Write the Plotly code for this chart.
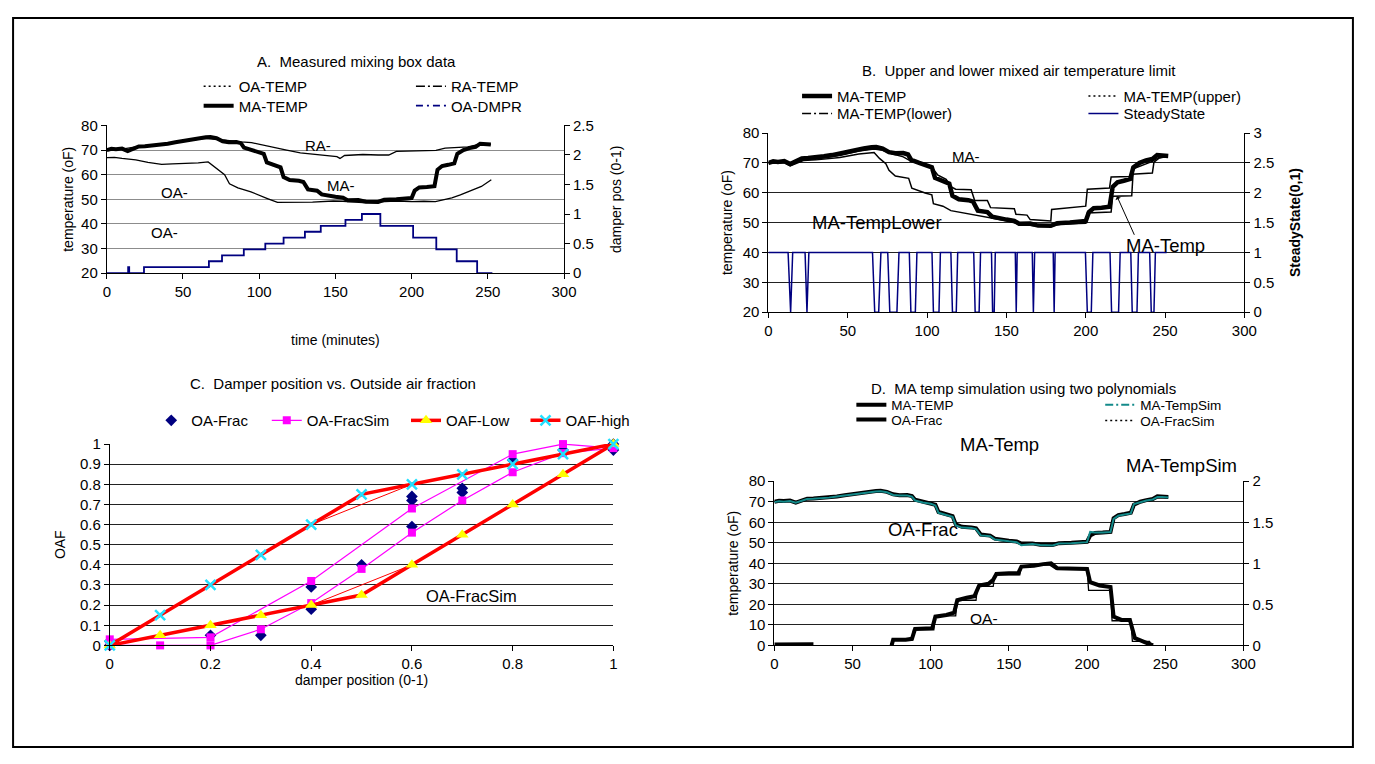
import plotly.graph_objects as go

# page body keeps its default 8px margin, so the figure is sized to fit inside the 1375x764 window
PAGE_W, PAGE_H, OFF = 1375, 764, 8
W, H = PAGE_W - 2 * OFF, PAGE_H - 2 * OFF
FONT = "Liberation Sans, Arial, sans-serif"
NAVY = "#000080"
TEAL = "#138a8a"
MAGENTA = "#ff00ff"
RED = "#ff0000"
YELLOW = "#ffff00"
CYAN = "#22e0ff"

# ---------------- data: mixing box time series (minutes) ----------------
MA_TIME = [0, 3, 6, 10, 13.7, 17, 21, 25, 30, 35, 40, 45, 50, 55, 60, 65, 68, 72, 76, 80,
           85, 88, 90, 95, 100, 103, 105, 110, 114, 116, 120, 126, 129, 132, 138, 141, 146, 150, 155, 158,
           165, 170, 178, 182, 190, 196, 200, 202, 205, 210, 215, 217, 220, 224, 228, 230, 234, 238, 242, 245,
           248, 252]
MA_TEMP = [70.0, 70.5, 70.3, 70.6, 69.6, 70.4, 71.5, 71.6, 71.8, 72.2, 72.6, 73.2, 73.8, 74.3, 74.8, 75.2, 75.3, 74.8, 73.6, 73.2,
           73.3, 72.8, 71.0, 70.0, 69.3, 68.5, 65.0, 64.0, 63.0, 59.0, 57.8, 57.5, 57.0, 54.0, 53.5, 52.0, 51.3, 51.0, 50.6, 49.6,
           49.7, 49.0, 48.9, 49.8, 50.0, 50.3, 50.5, 53.5, 54.8, 55.0, 55.3, 62.0, 63.5, 64.0, 64.6, 68.5, 70.0, 70.8, 71.3, 72.6,
           72.5, 72.3]
MA_TEMP_SIM = [69.8, 70.2, 70.0, 70.3, 69.5, 70.2, 71.3, 71.4, 71.6, 72.0, 72.5, 73.0, 73.7, 74.2, 74.7, 75.0, 75.1, 74.6, 73.3, 73.0,
               73.0, 72.5, 70.6, 69.6, 69.0, 68.2, 64.6, 63.6, 62.6, 58.5, 57.4, 57.2, 56.6, 53.6, 53.2, 51.6, 51.0, 50.7, 50.3, 48.8,
               49.4, 48.9, 48.7, 49.6, 49.8, 50.1, 50.3, 55.3, 55.0, 55.0, 55.2, 61.6, 63.2, 63.8, 64.3, 68.9, 69.8, 70.6, 71.1, 72.3,
               72.3, 72.1]

RA_TIME = [0, 10, 19, 30, 40, 50, 58, 65, 70, 79, 88, 95, 102, 110, 118, 127, 140, 148, 151, 153,
           156, 162, 168, 178, 185, 190, 200, 210, 216, 222, 228, 237, 242, 246, 252]
RA_TEMP = [70.2, 70.4, 71.3, 72.0, 72.8, 73.6, 74.4, 74.8, 74.5, 73.8, 73.3, 73.0, 72.0, 71.1, 70.0, 68.9, 68.0, 67.6, 67.3, 66.6,
           67.8, 68.0, 68.2, 68.0, 68.0, 69.5, 69.6, 69.8, 69.9, 70.8, 70.9, 71.3, 72.0, 72.5, 72.3]

OA_TIME = [0, 5, 10, 19, 27, 36, 43, 51, 60, 66.5, 71, 74, 77.3, 80.5, 86, 94.6, 100, 105.4, 112, 120,
           127, 135, 148.6, 155, 168, 178, 189.7, 200, 208, 215.6, 221, 226.4, 232, 237, 242, 245.8, 252.3]
OA_TEMP = [66.9, 67.0, 66.6, 66.0, 65.0, 64.2, 64.4, 64.5, 64.8, 65.2, 62.9, 61.3, 60.0, 56.3, 54.6, 53.0, 51.8, 50.3, 48.7, 48.8,
           48.6, 48.8, 49.3, 49.2, 48.6, 48.8, 49.3, 49.0, 49.2, 49.0, 49.8, 50.6, 51.8, 53.0, 54.2, 55.2, 57.9]

DMPR_TIME = [0, 14, 14.7, 24.4, 67, 75.6, 89.9, 104, 116, 130, 140.4, 156.6, 167.4, 179.5, 201, 216.2, 229.6, 243, 253]
DMPR_POS = [0, 0.1, 0, 0.1, 0.2, 0.3, 0.4, 0.5, 0.6, 0.7, 0.8, 0.9, 1.0, 0.8, 0.6, 0.4, 0.2, 0, 0]

UP_TIME = [0, 5, 10, 13.7, 17, 22, 30, 36.5, 45, 57, 62, 66.6, 72, 78, 85, 90, 95, 100, 103, 106.6,
           112, 115, 118, 127.8, 130, 138, 140, 155, 156, 163, 165, 178, 178.5, 200, 201, 215, 216, 228, 229, 242,
           243, 246, 250]
UP_TEMP = [70.0, 70.2, 70.3, 69.3, 70.2, 71.2, 71.3, 71.8, 72.5, 74.0, 74.3, 74.6, 74.2, 73.0, 72.0, 70.5, 69.8, 69.0, 68.5, 66.0,
           64.5, 62.0, 61.2, 61.0, 57.4, 57.4, 55.0, 54.6, 52.8, 52.5, 51.0, 50.5, 54.4, 55.5, 61.2, 61.6, 65.3, 65.4, 66.2, 66.6,
           70.2, 71.5, 72.0]

LO_TIME = [0, 5, 10, 13.7, 17, 22, 30, 36.5, 45, 57, 62, 66.6, 70, 74, 76, 80, 88.4, 90.4, 98.8, 103,
           104, 110, 115, 127.8, 140, 150, 158, 170, 178, 185, 200, 201, 216, 217, 229, 230, 242, 246, 250]
LO_TEMP = [69.8, 70.0, 70.0, 69.0, 69.8, 70.8, 71.0, 71.4, 71.8, 73.0, 73.3, 73.5, 71.5, 69.7, 67.5, 65.6, 64.8, 61.5, 59.9, 59.3,
           56.3, 55.5, 54.0, 52.8, 51.7, 50.6, 49.5, 48.8, 48.8, 49.5, 49.8, 53.2, 53.5, 58.8, 59.0, 68.0, 70.5, 71.8, 72.0]

SS_TIME = [0, 12.4, 14, 15.3, 23.1, 24.3, 25.5, 65.6, 67, 69.5, 70.9, 75.2, 76.5, 81, 82.3, 88.8, 89.8, 92.6, 93.6, 103.1,
           104, 107.5, 108.4, 115, 116, 118.4, 119.3, 129.4, 130.3, 132.8, 133.7, 140.6, 141.3, 142.3, 143, 155.6, 156.2, 156.8, 166.3, 167,
           167.8, 179.5, 180.1, 180.7, 199.8, 201, 203.5, 204.5, 215.3, 216.3, 220.7, 221.7, 228.4, 229.3, 232.3, 233.2, 240.3, 241.3, 243, 243.9,
           251]
SS_STATE = [1, 1, 0, 1, 1, 0, 1, 1, 0, 0, 1, 1, 0, 0, 1, 1, 0, 0, 1, 1,
            0, 0, 1, 1, 0, 0, 1, 1, 0, 0, 1, 1, 0, 0, 1, 1, 0, 1, 1, 0,
            1, 1, 0, 1, 1, 0, 0, 1, 1, 0, 0, 1, 1, 0, 0, 1, 1, 0, 0, 1,
            1]

OAF_TIME = [0, 10, 20, 25, None, 75, 76, 84, 88, 90, 96, 101, 103, 110, 115, 117, 123, 128, 131, 137,
            140, 142, 150, 156, 158, 166, 172, 177, 181, 190, 200, 202, 208, 215, 217, 222, 227.4, 230.6, 235, 238,
            242.2]
OAF_MEAS = [0.01, 0.01, 0.015, 0.015, None, 0.0, 0.07, 0.07, 0.08, 0.2, 0.2, 0.21, 0.35, 0.37, 0.4, 0.55, 0.58, 0.6, 0.73, 0.75,
            0.8, 0.87, 0.88, 0.88, 0.96, 0.97, 0.99, 1.0, 0.94, 0.93, 0.93, 0.77, 0.73, 0.71, 0.35, 0.31, 0.31, 0.09, 0.05, 0.03,
            0.0]
OAFS_TIME = [75, 76, 88, 89, 102, 103, 116, 117, 129, 130, 140, 141, 157, 158, 176, 180, 200, 201, 215, 216, 228, 229, 240, 241]
OAFS_VAL = [0.02, 0.06, 0.06, 0.19, 0.19, 0.36, 0.36, 0.55, 0.55, 0.72, 0.72, 0.86, 0.86, 0.96, 0.98, 0.93, 0.93, 0.67, 0.67, 0.3,
            0.3, 0.05, 0.05, 0.0]

# ---------------- data: damper position vs OA fraction ----------------
DP_STEPS = [0, 0.1, 0.2, 0.3, 0.4, 0.5, 0.6, 0.7, 0.8, 0.9, 1.0]
OAF_LOW = [0, 0.05, 0.1, 0.15, 0.2, 0.25, 0.4, 0.55, 0.7, 0.85, 1.0]
OAF_HIGH = [0, 0.15, 0.3, 0.45, 0.6, 0.75, 0.8, 0.85, 0.9, 0.95, 1.0]
OA_FRAC_X = [0, 0, 0.2, 0.3, 0.4, 0.4, 0.5, 0.6, 0.6, 0.6, 0.7, 0.7, 0.8, 0.9, 1.0, 1.0]
OA_FRAC_Y = [0.0, 0.02, 0.05, 0.05, 0.18, 0.29, 0.40, 0.59, 0.72, 0.74, 0.76, 0.78, 0.92, 0.97, 0.97, 1.0]
SIM_X = [0, 0.1, 0.2, 0.3, 0.4, 0.5, 0.6, 0.7, 0.8, 0.9, 1.0, 0.9, 0.8, 0.6, 0.4, 0.2, 0]
SIM_Y = [0.0, 0.0, 0.0, 0.08, 0.21, 0.38, 0.56, 0.72, 0.86, 0.955, 0.98, 1.0, 0.95, 0.68, 0.32, 0.04, 0.03]


def fx(p):
    """page pixel (reference image) -> paper x"""
    return (p - OFF) / W


def fy(p):
    """page pixel (reference image) -> paper y"""
    return 1 - (p - OFF) / H


fig = go.Figure()


def add(**kw):
    kw.setdefault("hoverinfo", "skip")
    fig.add_trace(go.Scatter(**kw))


def legend_only(name, legend, xa, ya, line=None, marker=None, mode="lines"):
    add(x=[None], y=[None], mode=mode, name=name, legend=legend, line=line, marker=marker,
        xaxis=xa, yaxis=ya, showlegend=True)


# ---------- Panel A ----------
add(x=OA_TIME, y=OA_TEMP, mode="lines", line=dict(color="black", width=1.3), xaxis="x", yaxis="y", showlegend=False)
add(x=RA_TIME, y=RA_TEMP, mode="lines", line=dict(color="black", width=1.3), xaxis="x", yaxis="y", showlegend=False)
add(x=MA_TIME, y=MA_TEMP, mode="lines", line=dict(color="black", width=4), xaxis="x", yaxis="y", showlegend=False)
add(x=DMPR_TIME, y=DMPR_POS, mode="lines", line=dict(color=NAVY, width=1.8, shape="hv"), xaxis="x", yaxis="y2", showlegend=False)
legend_only("OA-TEMP", "legend", "x", "y", line=dict(color="black", width=1.5, dash="2px,3px"))
legend_only("RA-TEMP", "legend2", "x", "y", line=dict(color="black", width=1.5, dash="9px,3px,2px,3px"))
legend_only("MA-TEMP", "legend3", "x", "y", line=dict(color="black", width=4))
legend_only("OA-DMPR", "legend4", "x", "y", line=dict(color=NAVY, width=1.8, dash="7px,4px,2px,4px"))

# ---------- Panel B ----------
add(x=MA_TIME, y=MA_TEMP, mode="lines", line=dict(color="black", width=4.5), xaxis="x2", yaxis="y3", showlegend=False)
add(x=UP_TIME, y=UP_TEMP, mode="lines", line=dict(color="black", width=1.5), xaxis="x2", yaxis="y3", showlegend=False)
add(x=LO_TIME, y=LO_TEMP, mode="lines", line=dict(color="black", width=1.5), xaxis="x2", yaxis="y3", showlegend=False)
add(x=SS_TIME, y=SS_STATE, mode="lines", line=dict(color=NAVY, width=1.5), xaxis="x2", yaxis="y4", showlegend=False)
legend_only("MA-TEMP", "legend5", "x2", "y3", line=dict(color="black", width=4.5))
legend_only("MA-TEMP(upper)", "legend6", "x2", "y3", line=dict(color="black", width=1.5, dash="2px,3px"))
legend_only("MA-TEMP(lower)", "legend7", "x2", "y3", line=dict(color="black", width=1.5, dash="9px,3px,2px,3px"))
legend_only("SteadyState", "legend8", "x2", "y3", line=dict(color=NAVY, width=1.5))

# ---------- Panel C ----------
add(x=OA_FRAC_X, y=OA_FRAC_Y, mode="markers", name="OA-Frac", legend="legend9",
    marker=dict(symbol="diamond", size=9, color=NAVY), xaxis="x3", yaxis="y5", cliponaxis=False)
add(x=SIM_X, y=SIM_Y, mode="lines+markers", name="OA-FracSim", legend="legend10",
    line=dict(color=MAGENTA, width=1.2), marker=dict(symbol="square", size=8, color=MAGENTA),
    xaxis="x3", yaxis="y5", cliponaxis=False)
add(x=[DP_STEPS[4], DP_STEPS[6]], y=[OAF_LOW[4], OAF_LOW[6]], mode="lines", line=dict(color=RED, width=1),
    xaxis="x3", yaxis="y5", showlegend=False)
add(x=[DP_STEPS[4], DP_STEPS[6]], y=[OAF_HIGH[4], OAF_HIGH[6]], mode="lines", line=dict(color=RED, width=1),
    xaxis="x3", yaxis="y5", showlegend=False)
add(x=DP_STEPS, y=OAF_LOW, mode="lines+markers", name="OAF-Low", legend="legend11",
    line=dict(color=RED, width=3.5),
    marker=dict(symbol="triangle-up", size=11, color=YELLOW, line=dict(width=0)),
    xaxis="x3", yaxis="y5", cliponaxis=False)
add(x=DP_STEPS, y=OAF_HIGH, mode="lines+markers", name="OAF-high", legend="legend12",
    line=dict(color=RED, width=3.5),
    marker=dict(symbol="x-thin", size=10, color=CYAN, line=dict(width=2.5, color=CYAN)),
    xaxis="x3", yaxis="y5", cliponaxis=False)

# ---------- Panel D ----------
add(x=MA_TIME, y=MA_TEMP, mode="lines", line=dict(color="black", width=4), xaxis="x4", yaxis="y6", showlegend=False)
add(x=MA_TIME, y=MA_TEMP_SIM, mode="lines", line=dict(color=TEAL, width=2), xaxis="x4", yaxis="y6", showlegend=False)
add(x=OAF_TIME, y=OAF_MEAS, mode="lines", line=dict(color="black", width=4), xaxis="x4", yaxis="y7",
    showlegend=False, connectgaps=False)
add(x=OAFS_TIME, y=OAFS_VAL, mode="lines", line=dict(color="black", width=1.3), xaxis="x4", yaxis="y7", showlegend=False)
legend_only("MA-TEMP", "legend13", "x4", "y6", line=dict(color="black", width=4))
legend_only("MA-TempSim", "legend14", "x4", "y6", line=dict(color=TEAL, width=2, dash="8px,3px,2px,3px"))
legend_only("OA-Frac", "legend15", "x4", "y6", line=dict(color="black", width=4))
legend_only("OA-FracSim", "legend16", "x4", "y6", line=dict(color="black", width=1.5, dash="2px,3px"))

# ---------- layout ----------
TICKF = dict(family=FONT, size=15, color="black")
TITLEF = dict(family=FONT, size=14, color="black")


def xax(dom, rng, dtick, anchor, title=None, standoff=10):
    d = dict(domain=[fx(dom[0]), fx(dom[1])], range=rng, dtick=dtick, tick0=0, anchor=anchor,
             showline=True, linecolor="black", linewidth=1, ticks="outside", ticklen=5, tickcolor="black",
             showgrid=False, zeroline=False, tickfont=TICKF, fixedrange=True)
    if title:
        d["title"] = dict(text=title, font=TITLEF, standoff=standoff)
    return d


def yax(dom, rng, dtick, anchor, grid, title=None, standoff=8, gridcolor="#222"):
    d = dict(domain=[fy(dom[1]), fy(dom[0])], range=rng, dtick=dtick, tick0=rng[0], anchor=anchor,
             showline=True, linecolor="black", linewidth=1, ticks="outside", ticklen=5, tickcolor="black",
             showgrid=grid, gridcolor=gridcolor, gridwidth=1, zeroline=False, tickfont=TICKF, fixedrange=True)
    if title:
        d["title"] = dict(text=title, font=TITLEF, standoff=standoff)
    return d


def y2ax(over, anchor, rng, dtick, title=None, standoff=8):
    d = dict(overlaying=over, side="right", anchor=anchor, range=rng, dtick=dtick, tick0=0,
             showline=True, linecolor="black", linewidth=1, ticks="outside", ticklen=5, tickcolor="black",
             showgrid=False, zeroline=False, tickfont=TICKF, fixedrange=True)
    if title:
        d["title"] = dict(text=title, font=TITLEF, standoff=standoff)
    return d


layout = dict(
    width=W, height=H, autosize=False,
    margin=dict(l=0, r=0, t=0, b=0),
    paper_bgcolor="white", plot_bgcolor="white",
    font=dict(family=FONT, size=15, color="black"),
    xaxis=xax((104, 567), [0, 300], 50, "y", "time (minutes)", 36),
    yaxis=yax((119, 270), [20, 80], 10, "x", True, "temperature (oF)", 4, gridcolor="#8c8c8c"),
    yaxis2=y2ax("y", "x", [0, 2.5], 0.5, "damper pos (0-1)", 18),
    xaxis2=xax((774, 1256), [0, 300], 50, "y3"),
    yaxis3=yax((126.7, 310), [20, 80], 10, "x2", True, "temperature (oF)", 6),
    yaxis4=y2ax("y3", "x2", [0, 3], 0.5, "<b>SteadyState(0,1)</b>", 16),
    xaxis3=xax((107, 617), [0, 1], 0.2, "y5", "damper position (0-1)", 0),
    yaxis5=yax((445, 651), [0, 1], 0.1, "x3", True, "OAF", 10),
    xaxis4=xax((780, 1255), [0, 300], 50, "y6"),
    yaxis6=yax((483, 651), [0, 80], 10, "x4", True, "temperature (oF)", 6),
    yaxis7=y2ax("y6", "x4", [0, 2], 0.5),
)

# legends: (name, text-left px, centre-y px, font size)
LEGENDS = [
    ("legend", 237, 79, 15), ("legend2", 452, 79, 15), ("legend3", 237, 99, 15), ("legend4", 452, 99, 15),
    ("legend5", 843, 89, 15), ("legend6", 1133, 89, 15), ("legend7", 843, 107, 15), ("legend8", 1133, 107, 15),
    ("legend9", 189, 421, 15), ("legend10", 306, 421, 15), ("legend11", 447, 421, 15), ("legend12", 568, 421, 15),
    ("legend13", 898, 405, 13.5), ("legend14", 1150, 405, 13.5), ("legend15", 898, 420, 13.5), ("legend16", 1150, 421, 13.5),
]
for key, tx, ty, fs in LEGENDS:
    layout[key] = dict(x=fx(tx - 40), y=fy(ty), xanchor="left", yanchor="middle", bgcolor="rgba(0,0,0,0)",
                       borderwidth=0, orientation="h", font=dict(family=FONT, size=fs, color="black"),
                       itemclick=False, itemdoubleclick=False)

NB = "\u00a0"
TEXTS = [
    ("A." + NB + NB + "Measured mixing box data", 357, 54, 15),
    ("B." + NB + NB + "Upper and lower mixed air temperature limit", 1028, 63, 15),
    ("C." + NB + NB + "Damper position vs. Outside air fraction", 333, 383, 15),
    ("D." + NB + NB + "MA temp simulation using two polynomials", 1032, 388, 15),
    ("RA-", 318, 139, 15), ("MA-", 341, 180, 15), ("OA-", 173, 188, 15), ("OA-", 162, 229, 15),
    ("MA-", 974, 151, 15), ("MA-TempLower", 884, 218, 18.5), ("MA-Temp", 1176, 242, 18.5),
    ("OA-FracSim", 473, 600, 16.5),
    ("MA-Temp", 1008, 445, 18.5), ("MA-TempSim", 1192, 467, 18.5), ("OA-Frac", 931, 532, 18.5), ("OA-", 992, 623, 15.5),
]
annotations = []
for txt, x, y, fs in TEXTS:
    annotations.append(dict(text=txt, x=fx(x), y=fy(y), xref="paper", yref="paper", showarrow=False,
                            xanchor="center", yanchor="middle", font=dict(family=FONT, size=fs, color="black")))
# arrow in panel B pointing to the MA-Temp curve
annotations.append(dict(text="", x=219.7, y=58.8, xref="x2", yref="y3", showarrow=True, ax=18, ay=40,
                        arrowhead=1, arrowsize=1, arrowwidth=1, arrowcolor="black"))
layout["annotations"] = annotations

# outer frame (drawn at the figure edge, as close to the reference frame as the page allows)
layout["shapes"] = [dict(type="rect", xref="paper", yref="paper", x0=0.0008, x1=0.9992, y0=0.0014, y1=0.9986,
                         line=dict(color="black", width=2), fillcolor="rgba(0,0,0,0)")]

fig.update_layout(**layout)
fig.write_html("out.html", config={"displayModeBar": False})
